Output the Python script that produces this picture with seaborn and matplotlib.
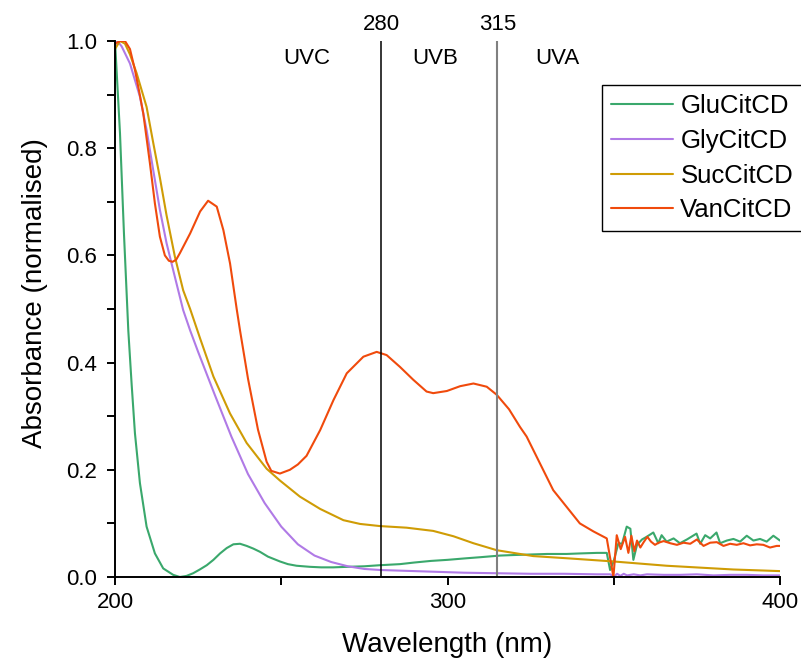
import pandas as pd
import seaborn as sns
import matplotlib
matplotlib.use('Agg')
import matplotlib.pyplot as plt
from matplotlib.ticker import MultipleLocator

# GluCitCD
glu_wl = [200, 201.5, 202.7, 204, 205, 206, 207.5, 209.5, 212, 214.5, 217.5, 219.5, 221.5, 223.5,
          225.5, 227.6, 229.6, 231.6, 233.6, 235.6, 237.6, 239.6, 241.6, 243.6, 246, 249.6, 252,
          254.6, 258.6, 262, 265.6, 270, 275, 279.7, 285.7, 290, 295, 300, 305.8, 310, 315.8, 320,
          325, 330, 335.8, 340, 345, 347.9, 348.9, 350, 351.4, 352.5, 353.9, 355, 355.9, 357, 358.5,
          359.9, 361.9, 363.4, 364.4, 365.9, 368, 369.9, 372, 374.9, 376, 377.5, 379, 380.9, 382,
          384, 386, 388, 390, 392, 394, 396, 398, 400]
glu_abs = [1.0, 0.828, 0.64, 0.46, 0.36, 0.268, 0.175, 0.094, 0.044, 0.016, 0.004, 0.0, 0.002, 0.007,
           0.014, 0.022, 0.032, 0.044, 0.054, 0.061, 0.062, 0.058, 0.053, 0.047, 0.038, 0.029, 0.024,
           0.021, 0.019, 0.018, 0.018, 0.019, 0.02, 0.022, 0.024, 0.027, 0.03, 0.032, 0.035, 0.037,
           0.04, 0.041, 0.042, 0.043, 0.043, 0.044, 0.045, 0.045, 0.013, 0.03, 0.063, 0.062, 0.094,
           0.09, 0.032, 0.06, 0.07, 0.075, 0.083, 0.063, 0.078, 0.066, 0.072, 0.063, 0.07, 0.081,
           0.062, 0.078, 0.072, 0.083, 0.063, 0.068, 0.071, 0.066, 0.077, 0.068, 0.071, 0.066, 0.077,
           0.068]

# GlyCitCD
gly_wl = [200, 200.7, 202, 204.5, 207.5, 209.5, 211.5, 213.5, 215.5, 218, 220.5, 222.6, 225, 230,
          235, 240, 245, 250, 255, 260, 265, 270, 275, 280, 285, 295, 305, 315, 325, 335, 345, 349,
          350, 351, 352, 353, 354, 356, 358, 360, 365, 370, 375, 380, 385, 390, 395, 400]
gly_abs = [0.99, 1.0, 0.99, 0.958, 0.896, 0.834, 0.759, 0.685, 0.623, 0.56, 0.498, 0.46, 0.42, 0.34,
           0.262, 0.192, 0.138, 0.094, 0.061, 0.04, 0.028, 0.02, 0.015, 0.013, 0.012, 0.01, 0.008,
           0.007, 0.006, 0.006, 0.005, 0.005, 0.0, 0.006, 0.002, 0.006, 0.003, 0.005, 0.003, 0.005,
           0.004, 0.004, 0.005, 0.003, 0.004, 0.004, 0.003, 0.003]

# SucCitCD
suc_wl = [200, 201.5, 203, 204.5, 206.5, 209.5, 211.5, 213.5, 215.5, 218, 220.5, 222.6, 225.6, 229.6,
          234.6, 239.6, 243.6, 245.6, 249.6, 255.6, 261.7, 268.7, 273.7, 279.7, 287.7, 295.7, 301.8,
          307.8, 314.8, 321.8, 325.8, 335.8, 349.9, 365.9, 386, 400]
suc_abs = [0.985, 1.0, 0.995, 0.975, 0.94, 0.877, 0.81, 0.745, 0.675, 0.598, 0.535, 0.5, 0.445, 0.374,
           0.305, 0.25, 0.218, 0.202, 0.18, 0.15, 0.127, 0.106, 0.099, 0.095, 0.092, 0.086, 0.076,
           0.063, 0.05, 0.043, 0.039, 0.035, 0.029, 0.021, 0.014, 0.011]

# VanCitCD
van_wl = [200, 201.5, 203, 204.5, 206, 207.3, 208.5, 210.5, 212, 213.5, 215, 216.2, 217.3, 218.4,
          219.5, 222.6, 225.6, 228, 230.6, 232.6, 234.6, 236.6, 237.6, 240, 243, 245.6, 247, 249.6,
          252.6, 255, 257.6, 261.7, 265.7, 269.7, 274.7, 278.7, 281.7, 285.7, 289.7, 293.7, 295.7,
          299.8, 303.8, 307.8, 311.8, 314.8, 318.5, 321.8, 323.8, 327.8, 331.8, 335.8, 339.8, 343.9,
          347.9, 349.9, 350.9, 352.1, 353.4, 354.4, 355.3, 356.2, 357, 358, 359, 360.1, 361.2, 362.4,
          363.5, 365, 367, 369, 371, 373, 375, 377, 379, 381, 383, 385, 387, 389, 391, 393, 395, 397,
          399, 400]
van_abs = [0.995, 1.0, 1.0, 0.985, 0.946, 0.905, 0.865, 0.772, 0.697, 0.635, 0.6, 0.59, 0.588, 0.592,
           0.604, 0.641, 0.682, 0.702, 0.691, 0.647, 0.585, 0.5, 0.46, 0.37, 0.275, 0.215, 0.198,
           0.193, 0.2, 0.21, 0.226, 0.274, 0.33, 0.38, 0.411, 0.42, 0.414, 0.392, 0.368, 0.346, 0.343,
           0.347, 0.356, 0.361, 0.355, 0.34, 0.313, 0.28, 0.262, 0.212, 0.162, 0.131, 0.1, 0.085,
           0.072, 0.0, 0.078, 0.052, 0.075, 0.045, 0.077, 0.048, 0.068, 0.055, 0.065, 0.075, 0.066,
           0.06, 0.064, 0.067, 0.063, 0.06, 0.064, 0.062, 0.07, 0.058, 0.064, 0.065, 0.058, 0.062,
           0.06, 0.063, 0.059, 0.061, 0.06, 0.055, 0.058, 0.058]

series = {
    'GluCitCD': (glu_wl, glu_abs, '#3aa86c'),
    'GlyCitCD': (gly_wl, gly_abs, '#b07ae6'),
    'SucCitCD': (suc_wl, suc_abs, '#cf9c05'),
    'VanCitCD': (van_wl, van_abs, '#f04a0c'),
}

sns.set_style('ticks')
plt.rcParams['font.family'] = ['Liberation Sans', 'DejaVu Sans']
plt.rcParams.update({'text.color': 'black', 'axes.labelcolor': 'black',
                     'xtick.color': 'black', 'ytick.color': 'black'})

fig = plt.figure(figsize=(8.01, 6.6), dpi=100)
ax = fig.add_axes([115 / 801, 1 - 577 / 660, 665 / 801, 536 / 660])

for name, (wl, ab, color) in series.items():
    df = pd.DataFrame({'Wavelength': wl, 'Absorbance': ab})
    sns.lineplot(data=df, x='Wavelength', y='Absorbance', ax=ax, color=color,
                 linewidth=1.5, label=name, estimator=None, sort=False)

# UV band boundaries
ax.axvline(280, 0, 1, color='black', linewidth=1.1)
ax.axvline(315, 0, 1, color='#808080', linewidth=1.5)
ax.text(280, 1.031, '280', ha='center', va='center', fontsize=16)
ax.text(315, 1.031, '315', ha='center', va='center', fontsize=16)
ax.text(257.6, 0.968, 'UVC', ha='center', va='center', fontsize=16)
ax.text(296.4, 0.968, 'UVB', ha='center', va='center', fontsize=16)
ax.text(333.1, 0.968, 'UVA', ha='center', va='center', fontsize=16)

ax.set_xlim(200, 400)
ax.set_ylim(0, 1.0)
ax.xaxis.set_major_locator(MultipleLocator(100))
ax.xaxis.set_minor_locator(MultipleLocator(50))
ax.yaxis.set_major_locator(MultipleLocator(0.2))
ax.yaxis.set_minor_locator(MultipleLocator(0.1))
ax.tick_params(which='both', direction='out', length=6, width=1.4, color='black')
ax.tick_params(axis='x', labelsize=16, pad=5)
ax.tick_params(axis='y', labelsize=16, pad=7)
sns.despine(ax=ax)
for side in ('left', 'bottom'):
    ax.spines[side].set_linewidth(1.4)
    ax.spines[side].set_color('black')

ax.set_xlabel('Wavelength (nm)', fontsize=20)
ax.set_ylabel('Absorbance (normalised)', fontsize=20)
ax.xaxis.set_label_coords(0.5, -0.103)
ax.yaxis.set_label_coords(-0.101, 0.53)

leg = ax.legend(loc='upper left', bbox_to_anchor=(602 / 801, 1 - 85 / 660),
                bbox_transform=fig.transFigure, fontsize=18.5, frameon=True, fancybox=False,
                framealpha=1, edgecolor='black', borderpad=0.35, labelspacing=0.42,
                handlelength=2.4, handletextpad=0.3, borderaxespad=0)
leg.get_frame().set_linewidth(1.0)

fig.savefig('out.png', dpi=100)
